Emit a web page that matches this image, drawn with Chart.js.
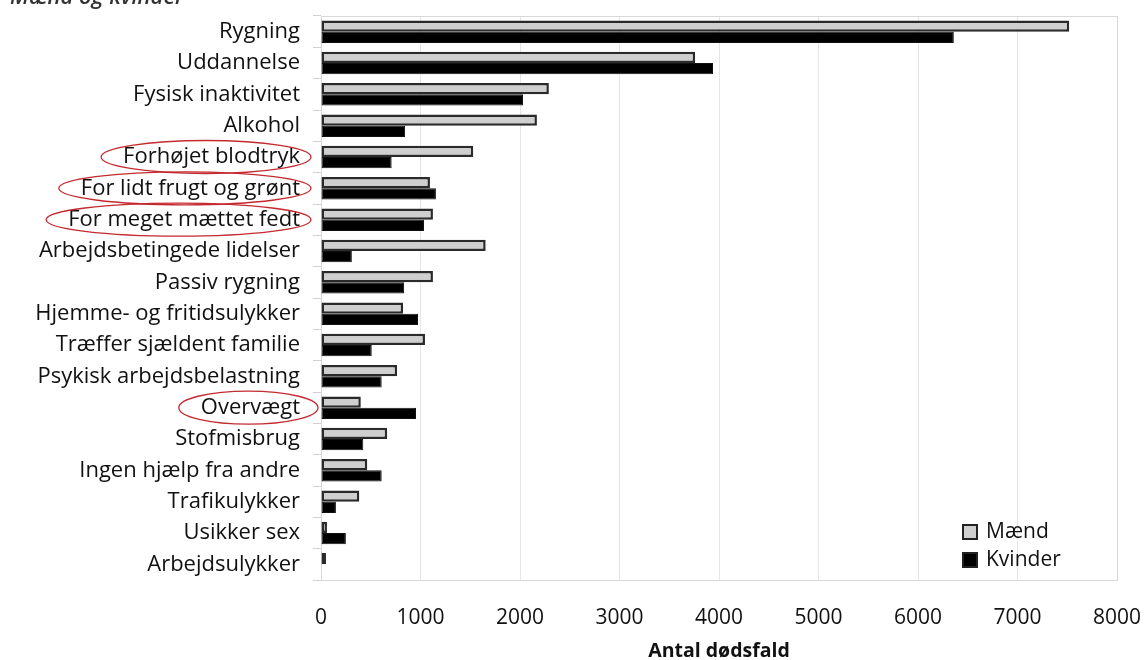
<!DOCTYPE html>
<html><head><meta charset="utf-8">
<script src="https://cdn.jsdelivr.net/npm/chart.js@4.4.1/dist/chart.umd.min.js"></script>
<style>
html,body{margin:0;padding:0;background:#fff;overflow:hidden;}
#wrap{position:relative;width:1148px;height:660px;}
#ttl{position:absolute;left:10px;top:-20px;font-family:"Open Sans",sans-serif;font-style:italic;font-weight:600;font-size:22px;color:#333;}
</style></head><body>
<div id="wrap"><div id="ttl">Mænd og kvinder</div><canvas id="c" width="1148" height="660"></canvas></div>
<script>
const categories = ["Rygning","Uddannelse","Fysisk inaktivitet","Alkohol","Forhøjet blodtryk","For lidt frugt og grønt","For meget mættet fedt","Arbejdsbetingede lidelser","Passiv rygning","Hjemme- og fritidsulykker","Træffer sjældent familie","Psykisk arbejdsbelastning","Overvægt","Stofmisbrug","Ingen hjælp fra andre","Trafikulykker","Usikker sex","Arbejdsulykker"];
const maend =   [7520,3760,2290,2170,1530,1095,1125,1655,1125,825,1045,765,400,665,465,385,60,50];
const kvinder = [6360,3940,2030,845,710,1155,1035,310,835,975,510,610,955,425,610,150,250,0];
const seriesNames = ["Mænd","Kvinder"];
const highlighted = ["Forhøjet blodtryk","For lidt frugt og grønt","For meget mættet fedt","Overvægt"];
const xTicks = [0,1000,2000,3000,4000,5000,6000,7000,8000];
const FONT = '"Open Sans", sans-serif';
const LABEL_SIZE = 22;

const extras = {
  id:'extras',
  beforeDatasetsDraw(chart){
    const a = chart.chartArea, ctx = chart.ctx;
    ctx.save(); ctx.strokeStyle='#d9d9d9'; ctx.lineWidth=1;
    ctx.strokeRect(a.left+0.5,a.top+0.5,a.right-a.left,a.bottom-a.top);
    ctx.restore();
  },
  afterDraw(chart){
    const ctx = chart.ctx, y = chart.scales.y, a = chart.chartArea;
    ctx.save();
    ctx.font = LABEL_SIZE + 'px ' + FONT;
    ctx.strokeStyle = '#c42a30'; ctx.lineWidth = 1.3;
    highlighted.forEach(lbl=>{
      const i = categories.indexOf(lbl);
      const cy = y.getPixelForValue(i);
      const w = ctx.measureText(lbl).width;
      const textRight = a.left - 21;
      const left = textRight - w - 22;
      const right = lbl === "Overvægt" ? textRight + 18 : textRight + 11;
      ctx.beginPath();
      ctx.ellipse((left+right)/2, cy, (right-left)/2, 16.5, 0, 0, Math.PI*2);
      ctx.stroke();
    });
    // legend
    const ds = chart.data.datasets;
    const lx = 963, ly = [532, 560];
    ctx.font = '21px ' + FONT; ctx.textBaseline='middle'; ctx.textAlign='left';
    ds.forEach((d,k)=>{
      ctx.fillStyle = d.backgroundColor; ctx.strokeStyle = '#222'; ctx.lineWidth = 2;
      ctx.fillRect(lx, ly[k]-7, 14, 14); ctx.strokeRect(lx, ly[k]-7, 14, 14);
      ctx.fillStyle = '#111'; ctx.fillText(d.label, lx+23, ly[k]);
    });
    ctx.restore();
  }
};

new Chart(document.getElementById('c'), {
  type:'bar',
  data:{
    labels:categories,
    datasets:[
      {label:seriesNames[0], data:maend, backgroundColor:'#cfcfcf', borderColor:'#2a2a2a', borderWidth:2.5, borderSkipped:false},
      {label:seriesNames[1], data:kvinder, backgroundColor:'#000000', borderColor:'#111', borderWidth:1, borderSkipped:false}
    ]
  },
  options:{
    indexAxis:'y', responsive:false, animation:false,
    categoryPercentage:0.72, barPercentage:1.0,
    layout:{padding:{left:0,right:31,top:16,bottom:0}},
    plugins:{legend:{display:false}, tooltip:{enabled:false}},
    scales:{
      x:{
        min:0, max:8000,
        afterBuildTicks(s){ s.ticks = xTicks.map(v=>({value:v})); },
        afterFit(s){ s.height = 80; s.paddingLeft = 0; s.paddingRight = 0; },
        grid:{color:'#e6e6e6', drawTicks:false},
        border:{color:'#d9d9d9'},
        ticks:{padding:25, color:'#111', font:{family:FONT,size:21}, callback:v=>String(v)},
        title:{display:true, text:'Antal dødsfald', color:'#111', font:{family:FONT,size:19.5,weight:'bold'}, padding:{top:0,bottom:-3}}
      },
      y:{
        afterFit(s){ s.width = 321; s.paddingTop = 0; s.paddingBottom = 0; },
        grid:{drawOnChartArea:false, drawTicks:true, tickLength:8, tickColor:'#d0d0d0'},
        border:{color:'#d9d9d9'},
        ticks:{padding:13, color:'#111', autoSkip:false, font:{family:FONT,size:LABEL_SIZE}}
      }
    }
  },
  plugins:[extras]
});
</script>
</body></html>
